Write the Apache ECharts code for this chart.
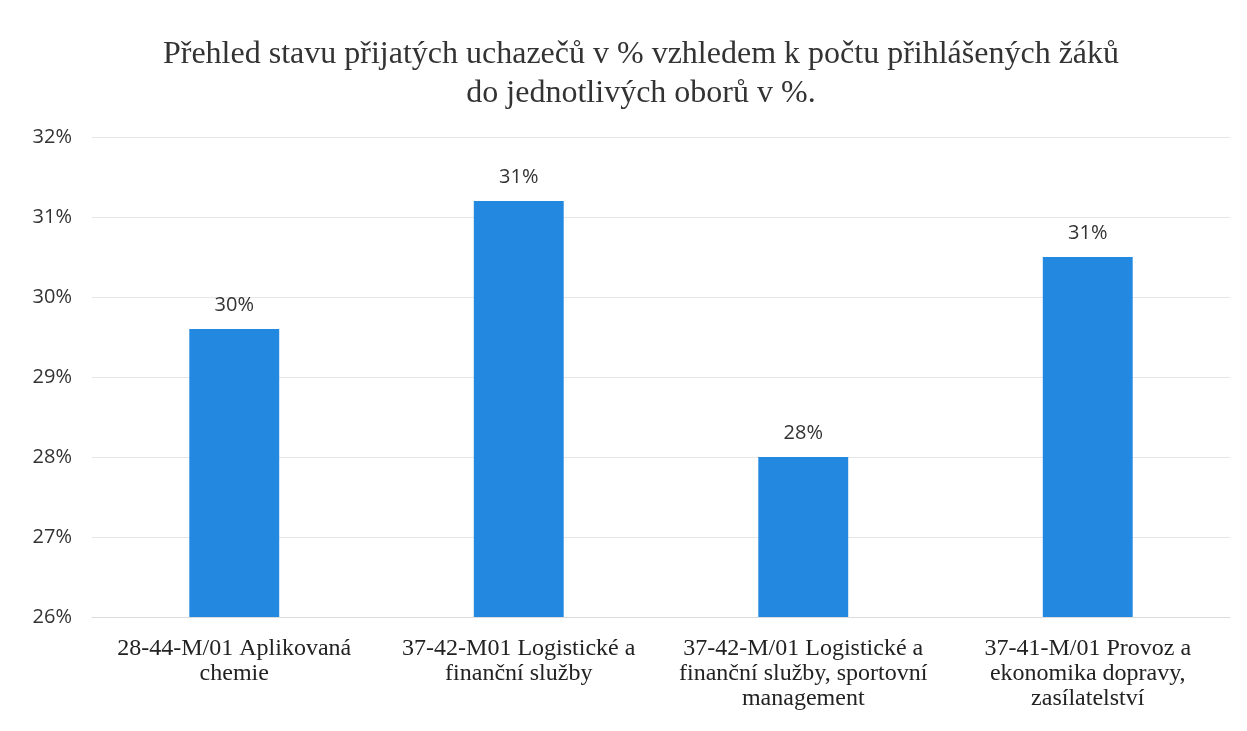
<!DOCTYPE html>
<html>
<head>
<meta charset="utf-8">
<script src="https://cdn.jsdelivr.net/npm/echarts@6/dist/echarts.min.js"></script>
<style>
html,body{margin:0;padding:0;background:#fff;}
#c{width:1247px;height:731px;}
</style>
</head>
<body>
<div id="c"></div>
<script>
const titleLines = ['Přehled stavu přijatých uchazečů v % vzhledem k počtu přihlášených žáků', 'do jednotlivých oborů v %.'];
const categories = [
  '28-44-M/01 Aplikovaná\nchemie',
  '37-42-M01 Logistické a\nfinanční služby',
  '37-42-M/01 Logistické a\nfinanční služby, sportovní\nmanagement',
  '37-41-M/01 Provoz a\nekonomika dopravy,\nzasílatelství'
];
const values = [29.6, 31.2, 28.0, 30.5];
const yMin = 26, yMax = 32, yStep = 1;

const chart = echarts.init(document.getElementById('c'));
chart.setOption({
  backgroundColor: '#ffffff',
  animation: false,
  title: {
    text: titleLines.join('\n'),
    left: 636,
    textAlign: 'center',
    top: 30,
    textStyle: {
      fontFamily: 'Liberation Serif',
      fontSize: 32,
      fontWeight: 'normal',
      color: '#333333',
      lineHeight: 39
    }
  },
  grid: { left: 92, right: 17, top: 137, bottom: 114 },
  xAxis: {
    type: 'category',
    data: categories,
    axisLine: { show: true, lineStyle: { color: '#dcdcdc' } },
    axisTick: { show: false },
    axisLabel: {
      interval: 0,
      margin: 19,
      fontFamily: 'Liberation Serif',
      fontSize: 24,
      lineHeight: 25,
      color: '#222222'
    }
  },
  yAxis: {
    type: 'value',
    min: yMin,
    max: yMax,
    interval: yStep,
    axisLine: { show: false },
    axisTick: { show: false },
    splitLine: { lineStyle: { color: '#e6e6e6', width: 1 } },
    axisLabel: {
      margin: 20,
      fontFamily: 'Open Sans',
      fontSize: 20,
      color: '#333333',
      formatter: v => Math.round(v) + '%'
    }
  },
  series: [{
    type: 'bar',
    data: values,
    barWidth: '31.6%',
    itemStyle: { color: '#2389e0' },
    label: {
      show: true,
      position: 'top',
      distance: 14,
      fontFamily: 'Open Sans',
      fontSize: 20,
      color: '#333333',
      formatter: p => Math.round(p.value) + '%'
    }
  }]
});
</script>
</body>
</html>
